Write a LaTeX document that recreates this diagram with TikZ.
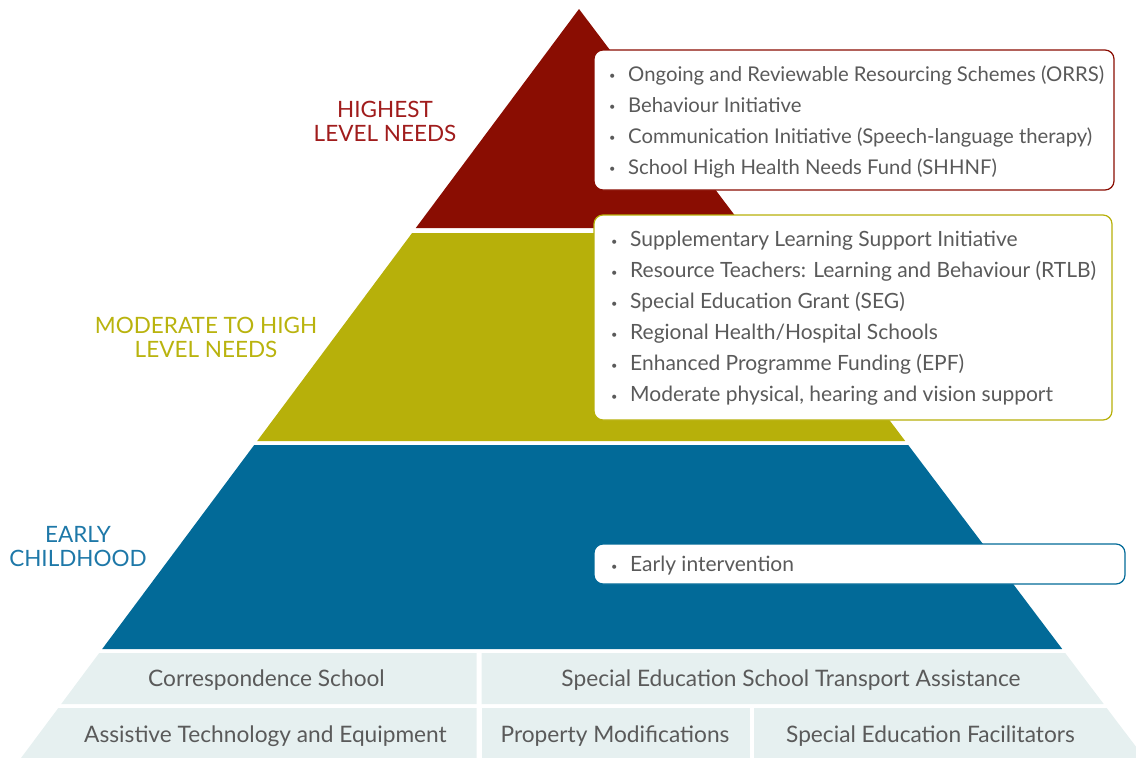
\documentclass[tikz,border=0pt]{standalone}
\usepackage{fontspec}
\setmainfont{Lato}

\definecolor{redband}{RGB}{138,13,2}
\definecolor{oliveband}{RGB}{183,176,10}
\definecolor{blueband}{RGB}{2,106,152}
\definecolor{lightband}{RGB}{230,240,240}
\definecolor{redlabel}{RGB}{160,28,28}
\definecolor{olivelabel}{RGB}{185,179,14}
\definecolor{bluelabel}{RGB}{30,120,168}
\definecolor{textgrey}{RGB}{90,90,90}

\newcommand{\bitem}[1]{\makebox[19pt][l]{\raisebox{1.5pt}{\fontsize{11}{11}\selectfont\textbullet}}#1}

\begin{document}
\begin{tikzpicture}[x=1pt,y=-1pt,
    listbox/.style={rectangle, draw, fill=white, rounded corners=9pt, line width=1.2pt},
    listtext/.style={anchor=west, align=left, inner sep=0pt, text=textgrey, font=\fontsize{21}{31}\selectfont},
    level/.style={align=center, font=\fontsize{22.5}{24}\selectfont},
    cell/.style={text=textgrey, font=\fontsize{22.7}{24}\selectfont}]
      \useasboundingbox (0,0) rectangle (1136,758);

      % pyramid bands
      \fill[redband] (579,9)--(744.3,228)--(415.8,228)--cycle;
      \fill[oliveband] (412.1,233)--(748.1,233)--(905.2,441)--(257.2,441)--cycle;
      \fill[blueband] (254.2,445)--(908.2,445)--(1062.2,649)--(102.2,649)--cycle;
      \fill[lightband] (99.2,653)--(476.5,653)--(476.5,704)--(61.2,704)--cycle;
      \fill[lightband] (481.5,653)--(1065.2,653)--(1103.7,704)--(481.5,704)--cycle;
      \fill[lightband] (58.3,708)--(476.5,708)--(476.5,758)--(21,758)--cycle;
      \fill[lightband] (481.5,708)--(750,708)--(750,758)--(481.5,758)--cycle;
      \fill[lightband] (754,708)--(1106.7,708)--(1136,746.7)--(1136,758)--(754,758)--cycle;

      \node at(385,121) [level, text=redlabel] (highest) {HIGHEST\\LEVEL NEEDS};
      \node at(206,337) [level, text=olivelabel] (moderate) {MODERATE TO HIGH\\LEVEL NEEDS};
      \node at(78,547) [level, text=bluelabel] (early) {EARLY\\CHILDHOOD};

      \node at(854,120) [listbox, draw=redband, minimum width=520, minimum height=140] (highest-box) {};
      \node at(609,121.5) [listtext, font=\fontsize{20.3}{31}\selectfont] (highest-list)
        {\bitem{Ongoing and Reviewable Resourcing Schemes (ORRS)}\\
         \bitem{Behaviour Initiative}\\
         \bitem{Communication Initiative (Speech-language therapy)}\\
         \bitem{School High Health Needs Fund (SHHNF)}};

      \node at(853,317.5) [listbox, draw=oliveband, minimum width=518, minimum height=205] (moderate-box) {};
      \node at(611,318.5) [listtext] (moderate-list)
        {\bitem{Supplementary Learning Support Initiative}\\
         \bitem{Resource Teachers: Learning and Behaviour (RTLB)}\\
         \bitem{Special Education Grant (SEG)}\\
         \bitem{Regional Health/Hospital Schools}\\
         \bitem{Enhanced Programme Funding (EPF)}\\
         \bitem{Moderate physical, hearing and vision support}};

      \node at(859.5,564) [listbox, draw=blueband, minimum width=531, minimum height=40] (early-box) {};
      \node at(611,566) [listtext] (early-list) {\bitem{Early intervention}};

      \node at(266.5,680) [cell] (correspondence) {Correspondence School};
      \node at(791,680) [cell] (transport) {Special Education School Transport Assistance};
      \node at(265.5,736) [cell] (assistive) {Assistive Technology and Equipment};
      \node at(615,736) [cell] (property) {Property Modifications};
      \node at(930.5,736) [cell] (facilitators) {Special Education Facilitators};
\end{tikzpicture}
\end{document}
